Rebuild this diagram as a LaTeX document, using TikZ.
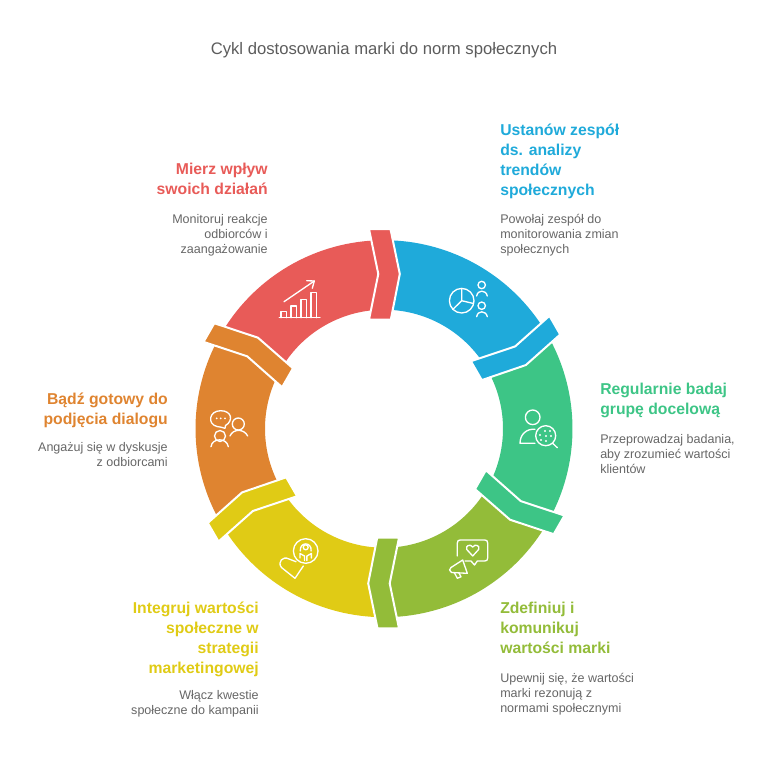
\documentclass[tikz,border=0pt]{standalone}
\usepackage{xcolor}
\usepackage{fontspec}
\setmainfont{Liberation Sans}
\definecolor{segblue}{HTML}{1FAADA}
\definecolor{seggreen}{HTML}{3DC586}
\definecolor{seglime}{HTML}{93BC39}
\definecolor{segyellow}{HTML}{E0CB15}
\definecolor{segorange}{HTML}{DF8430}
\definecolor{segred}{HTML}{E85B58}
\definecolor{bodygray}{HTML}{666666}
\tikzset{
  ringtab/.style={draw=white,line width=1.5pt,line join=miter},
  iconline/.style={draw=white,line width=1pt,line cap=round,line join=round},
  headtext/.style={inner sep=0pt,font=\bfseries\fontsize{11.8}{15}\selectfont},
  bodytext/.style={inner sep=0pt,text=bodygray,font=\fontsize{9.4}{11.25}\selectfont}
}
\begin{document}
\begin{tikzpicture}[x=0.75pt,y=0.75pt,yscale=-1,xscale=1]
\useasboundingbox (0,0) rectangle (768,758);

\begin{scope}[shift={(384,428.7)}]
% ring parts
\fill [segblue,rotate=0]     (-88:188.5) arc (-88:-33:188.5) -- (136.7,-73.2) -- (-35:119) arc (-35:-88:119) -- (12,-154.7) -- cycle ;
\fill [seggreen,rotate=60]   (-88:188.5) arc (-88:-33:188.5) -- (136.7,-73.2) -- (-35:119) arc (-35:-88:119) -- (12,-154.7) -- cycle ;
\fill [seglime,rotate=120]   (-88:188.5) arc (-88:-33:188.5) -- (136.7,-73.2) -- (-35:119) arc (-35:-88:119) -- (12,-154.7) -- cycle ;
\fill [segyellow,rotate=180] (-88:188.5) arc (-88:-33:188.5) -- (136.7,-73.2) -- (-35:119) arc (-35:-88:119) -- (12,-154.7) -- cycle ;
\fill [segorange,rotate=240] (-88:188.5) arc (-88:-33:188.5) -- (136.7,-73.2) -- (-35:119) arc (-35:-88:119) -- (12,-154.7) -- cycle ;
\fill [segred,rotate=300]    (-88:188.5) arc (-88:-33:188.5) -- (136.7,-73.2) -- (-35:119) arc (-35:-88:119) -- (12,-154.7) -- cycle ;

% tabs over the joints
\draw [ringtab,fill=segred,rotate=0]      (-15,-199.7) -- (6.5,-199.7) -- (15.8,-154.7) -- (6.8,-109) -- (-15,-109) -- (-5.7,-154.7) -- cycle ;
\draw [ringtab,fill=segblue,rotate=60]    (-15,-199.7) -- (6.5,-199.7) -- (15.8,-154.7) -- (6.8,-109) -- (-15,-109) -- (-5.7,-154.7) -- cycle ;
\draw [ringtab,fill=seggreen,rotate=120]  (-15,-199.7) -- (6.5,-199.7) -- (15.8,-154.7) -- (6.8,-109) -- (-15,-109) -- (-5.7,-154.7) -- cycle ;
\draw [ringtab,fill=seglime,rotate=180]   (-15,-199.7) -- (6.5,-199.7) -- (15.8,-154.7) -- (6.8,-109) -- (-15,-109) -- (-5.7,-154.7) -- cycle ;
\draw [ringtab,fill=segyellow,rotate=240] (-15,-199.7) -- (6.5,-199.7) -- (15.8,-154.7) -- (6.8,-109) -- (-15,-109) -- (-5.7,-154.7) -- cycle ;
\draw [ringtab,fill=segorange,rotate=300] (-15,-199.7) -- (6.5,-199.7) -- (15.8,-154.7) -- (6.8,-109) -- (-15,-109) -- (-5.7,-154.7) -- cycle ;
\end{scope}

% chart and two people
\draw [iconline] (461.7,300.7) circle [radius=12.3] ;
\draw [iconline] (461.7,288.4) -- (461.7,300.7) -- (473.5,303.5) (461.7,300.7) -- (452.7,309.5) ;
\draw [iconline] (481.7,285) circle [radius=3.7] ;
\draw [iconline] (476.7,296) .. controls (477.5,289.5) and (486,289.5) .. (487.3,296) ;
\draw [iconline] (481.7,305.7) circle [radius=3.7] ;
\draw [iconline] (476.7,316.7) .. controls (477.5,310.2) and (486,310.2) .. (487.3,316.7) ;

% person and magnifier
\draw [iconline] (532.7,417.3) circle [radius=7.3] ;
\draw [iconline] (535,429.3) .. controls (527,428.5) and (520,434) .. (520,443.3) -- (535,443.3) ;
\draw [iconline] (545.7,435.7) circle [radius=10] ;
\draw [iconline] (552.7,443.3) -- (557.3,447.7) ;
\fill [white] (540,435) circle [radius=1.2] (545,431) circle [radius=1.2] (550,431) circle [radius=1.2] (551,436) circle [radius=1.2] (546,436) circle [radius=1.2] (541,440) circle [radius=1.2] (546,441) circle [radius=1.2] ;

% bubble and megaphone
\draw [iconline] (457.3,556) -- (457.3,543) .. controls (457.3,541) and (458.3,540) .. (460.3,540) -- (484.7,540) .. controls (486.7,540) and (487.7,541) .. (487.7,543) -- (487.7,558) .. controls (487.7,560) and (486.7,561) .. (484.7,561) -- (477.3,561) -- (474.5,565) -- (471,561) -- (465,561) ;
\draw [iconline] (472.7,556) -- (466.8,549.5) .. controls (465,545.5) and (470.5,543.5) .. (472.7,547) .. controls (475,543.5) and (480.5,545.5) .. (478.6,549.5) -- cycle ;
\draw [iconline] (462.7,560) -- (467.3,573.3) -- (451.5,572.5) .. controls (449,571.5) and (449,568.5) .. (451,567.5) -- cycle ;
\draw [iconline] (454.5,572.8) -- (457.3,578.3) -- (461,576.8) -- (459,573) ;

% heart and circled person
\draw [iconline] (305.7,551) circle [radius=12.3] ;
\draw [iconline] (305.7,547.3) circle [radius=2.5] ;
\draw [iconline] (300.3,551) .. controls (299.5,541.5) and (312,541.5) .. (311.1,551) ;
\draw [iconline] (300,558) -- (300,553.5) -- (304.5,556) -- (304.5,560.5) (311.4,558) -- (311.4,553.5) -- (306.9,556) -- (306.9,560.5) ;
\draw [iconline] (303.3,566) -- (295,578.3) -- (281.5,567.5) .. controls (277,562) and (283,555.5) .. (289,559) -- (296,561.7) ;

% two people and speech bubble
\draw [iconline] (225,428.3) -- (225.5,425.5) .. controls (233.5,421) and (232,410.7) .. (220.7,410.7) .. controls (209,410.7) and (207,424) .. (217,426.5) .. controls (220,427.3) and (222.5,427) .. (225,428.3) -- cycle ;
\fill [white] (216.7,418.3) circle [radius=1] (220.7,418.3) circle [radius=1] (225,418.3) circle [radius=1] ;
\draw [iconline] (220,436) circle [radius=5.5] ;
\draw [iconline] (211,446.7) .. controls (212,437.5) and (227,437.5) .. (228.3,446.7) ;
\draw [iconline] (238.3,424) circle [radius=6] ;
\draw [iconline] (230,436) .. controls (233,428.5) and (244,428.5) .. (247.7,436) ;

% bars and rising arrow
\draw [iconline] (279.3,317.7) -- (320,317.7) ;
\draw [iconline] (281,317.7) -- (281,311.7) -- (286.7,311.7) -- (286.7,317.7) ;
\draw [iconline] (291,317.7) -- (291,306) -- (296.7,306) -- (296.7,317.7) ;
\draw [iconline] (301,317.7) -- (301,299.3) -- (306.7,299.3) -- (306.7,317.7) ;
\draw [iconline] (311,317.7) -- (311,292.7) -- (316.7,292.7) -- (316.7,317.7) ;
\draw [iconline] (284,301.7) -- (314.3,281) ;
\draw [iconline] (306.7,280.7) -- (314.3,281) -- (312.3,288.3) ;

% texts
\node (title) [inner sep=0pt,anchor=center,text=bodygray!90!black,font=\fontsize{12.5}{15}\selectfont] at (384,50) {Cykl dostosowania marki do norm społecznych};

\node (blueHead) [headtext,text=segblue,anchor=north west,align=left] at (500,123.8) {Ustanów zespół\\ds. analizy\\trendów\\społecznych};
\node (blueBody) [bodytext,anchor=north west,align=left] at (500,213.7) {Powołaj zespół do\\monitorowania zmian\\społecznych};

\node (greenHead) [headtext,text=seggreen,anchor=north west,align=left] at (600,382.8) {Regularnie badaj\\grupę docelową};
\node (greenBody) [bodytext,anchor=north west,align=left] at (600,433.7) {Przeprowadzaj badania,\\aby zrozumieć wartości\\klientów};

\node (limeHead) [headtext,text=seglime,anchor=north west,align=left] at (500,601.8) {Zdefiniuj i\\komunikuj\\wartości marki};
\node (limeBody) [bodytext,anchor=north west,align=left] at (500,672.7) {Upewnij się, że wartości\\marki rezonują z\\normami społecznymi};

\node (yellowHead) [headtext,text=segyellow,anchor=north east,align=right] at (259,601.8) {Integruj wartości\\społeczne w\\strategii\\marketingowej};
\node (yellowBody) [bodytext,anchor=north east,align=right] at (259,689.7) {Włącz kwestie\\społeczne do kampanii};

\node (orangeHead) [headtext,text=segorange,anchor=north east,align=right] at (168,392.8) {Bądź gotowy do\\podjęcia dialogu};
\node (orangeBody) [bodytext,anchor=north east,align=right] at (168,441.7) {Angażuj się w dyskusje\\z odbiorcami};

\node (redHead) [headtext,text=segred,anchor=north east,align=right] at (268,162.8) {Mierz wpływ\\swoich działań};
\node (redBody) [bodytext,anchor=north east,align=right] at (268,213.7) {Monitoruj reakcje\\odbiorców i\\zaangażowanie};
\end{tikzpicture}
\end{document}
